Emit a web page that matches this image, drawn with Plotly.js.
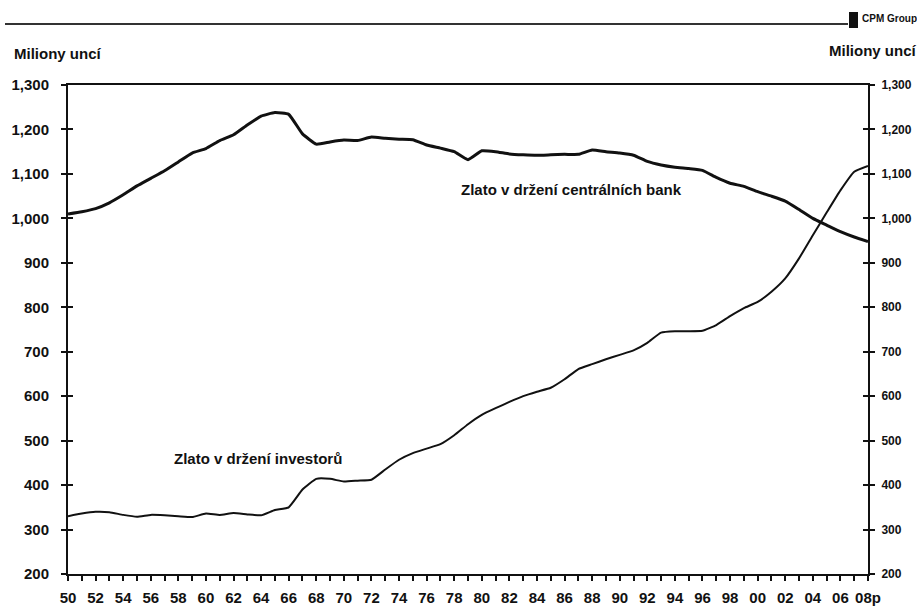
<!DOCTYPE html>
<html>
<head>
<meta charset="utf-8">
<script src="https://cdn.plot.ly/plotly-3.0.1.min.js"></script>
<style>html,body{margin:0;padding:0;background:#fff;}#chart{width:917px;height:608px;}</style>
</head>
<body>
<div id="chart"></div>
<script>
const years = [1950,1951,1952,1953,1954,1955,1956,1957,1958,1959,
  1960,1961,1962,1963,1964,1965,1966,1967,1968,1969,
  1970,1971,1972,1973,1974,1975,1976,1977,1978,1979,
  1980,1981,1982,1983,1984,1985,1986,1987,1988,1989,
  1990,1991,1992,1993,1994,1995,1996,1997,1998,1999,
  2000,2001,2002,2003,2004,2005,2006,2007,2008];

const centralBanks = [1010,1015,1022,1035,1053,1073,1090,1107,1127,1147,
  1157,1175,1188,1210,1230,1238,1234,1190,1167,1172,
  1176,1175,1183,1180,1178,1177,1165,1158,1150,1132,
  1152,1150,1145,1143,1142,1143,1144,1144,1154,1150,
  1147,1142,1128,1120,1115,1112,1108,1092,1079,1072,
  1060,1050,1039,1020,1000,985,970,958,948];

const investors = [330,336,340,339,333,329,333,332,330,328,
  336,333,337,334,332,344,350,390,414,414,
  408,410,412,435,457,472,482,492,512,537,
  558,573,587,600,610,619,638,661,672,683,
  693,703,720,743,746,746,747,760,780,798,
  812,835,865,910,962,1013,1063,1105,1118];

const xTickText = ["50","","52","","54","","56","","58","","60","","62","","64","","66","","68","",
  "70","","72","","74","","76","","78","","80","","82","","84","","86","","88","",
  "90","","92","","94","","96","","98","","00","","02","","04","","06","","08p"];

const yTickVals = [200,300,400,500,600,700,800,900,1000,1100,1200,1300];
const yTickText = ["200","300","400","500","600","700","800","900","1,000","1,100","1,200","1,300"];

const labelCentral = "Zlato v držení centrálních bank";
const labelInvestors = "Zlato v držení investorů";
const unitLabel = "Miliony uncí";
const logoText = "CPM Group";

const FONT = "Liberation Sans, Arial, sans-serif";
const INK = "#111";

const traces = [
  {x: years, y: centralBanks, type: "scatter", mode: "lines",
   line: {color: INK, width: 3, shape: "spline", smoothing: 0.4}, hoverinfo: "skip", showlegend: false},
  {x: years, y: investors, type: "scatter", mode: "lines",
   line: {color: INK, width: 2, shape: "spline", smoothing: 0.4}, hoverinfo: "skip", showlegend: false},
  {x: years, y: investors, type: "scatter", mode: "lines", yaxis: "y2",
   line: {color: "rgba(0,0,0,0)", width: 0}, hoverinfo: "skip", showlegend: false},
  {x: years, y: investors, type: "scatter", mode: "lines", yaxis: "y3",
   line: {color: "rgba(0,0,0,0)", width: 0}, hoverinfo: "skip", showlegend: false},
  {x: years, y: investors, type: "scatter", mode: "lines", yaxis: "y4",
   line: {color: "rgba(0,0,0,0)", width: 0}, hoverinfo: "skip", showlegend: false}
];

const yCommon = {
  range: [200, 1300], tickvals: yTickVals, ticktext: yTickText,
  showgrid: false, zeroline: false, showline: true, linecolor: INK, linewidth: 2,
  tickcolor: INK, tickwidth: 2, ticklen: 5
};

const layout = {
  width: 917, height: 608,
  margin: {l: 68, r: 49, t: 85, b: 34, pad: 0},
  paper_bgcolor: "#fff", plot_bgcolor: "#fff",
  showlegend: false,
  xaxis: {
    range: [1950, 2008], tickvals: years, ticktext: xTickText, tickangle: 0,
    showgrid: false, zeroline: false, showline: true, mirror: true,
    linecolor: INK, linewidth: 2, ticks: "outside", ticklen: 5, tickwidth: 2, tickcolor: INK,
    ticklabelstandoff: 4,
    tickfont: {family: FONT, size: 15, color: INK, weight: "bold"}
  },
  yaxis: Object.assign({}, yCommon, {side: "left", ticks: "outside", ticklabelstandoff: 9,
    tickfont: {family: FONT, size: 15, color: INK, weight: "bold"}}),
  yaxis2: Object.assign({}, yCommon, {side: "right", overlaying: "y", ticks: "outside", ticklabelstandoff: 4,
    tickfont: {family: FONT, size: 12, color: INK, weight: "bold"}}),
  yaxis3: Object.assign({}, yCommon, {side: "left", overlaying: "y", ticks: "inside", showticklabels: false}),
  yaxis4: Object.assign({}, yCommon, {side: "right", overlaying: "y", ticks: "inside", showticklabels: false}),
  annotations: [
    {x: 1986.5, y: 1064, xref: "x", yref: "y", text: labelCentral, showarrow: false,
     font: {family: FONT, size: 15, color: INK, weight: "bold"}},
    {x: 1963.75, y: 459, xref: "x", yref: "y", text: labelInvestors, showarrow: false,
     font: {family: FONT, size: 15, color: INK, weight: "bold"}},
    {x: 12, y: 53, text: unitLabel, showarrow: false, xanchor: "left", yanchor: "middle",
     font: {family: FONT, size: 15, color: INK, weight: "bold"}},
    {x: 919, y: 50, text: unitLabel, showarrow: false, xanchor: "right", yanchor: "middle",
     font: {family: FONT, size: 15, color: INK, weight: "bold"}},
    {x: 860, y: 19, text: logoText, showarrow: false, xanchor: "left", yanchor: "middle",
     font: {family: FONT, size: 10, color: INK, weight: "bold"}}
  ],
  shapes: []
};

// convert pixel header positions to paper coords
const plotL = 68, plotR = 917 - 49, plotT = 85, plotB = 608 - 34;
const px = v => (v - plotL) / (plotR - plotL);
const py = v => (plotB - v) / (plotB - plotT);
layout.annotations.forEach((a, i) => {
  if (i >= 2) { a.xref = "paper"; a.yref = "paper"; a.x = px(a.x); a.y = py(a.y); }
});
layout.shapes.push({type: "line", xref: "paper", yref: "paper",
  x0: px(5), x1: px(848), y0: py(24), y1: py(24), line: {color: "#333", width: 2}});
layout.shapes.push({type: "rect", xref: "paper", yref: "paper",
  x0: px(849), x1: px(858), y0: py(12), y1: py(28), fillcolor: INK, line: {width: 0}});

Plotly.newPlot("chart", traces, layout, {staticPlot: true, displayModeBar: false});
</script>
</body>
</html>
